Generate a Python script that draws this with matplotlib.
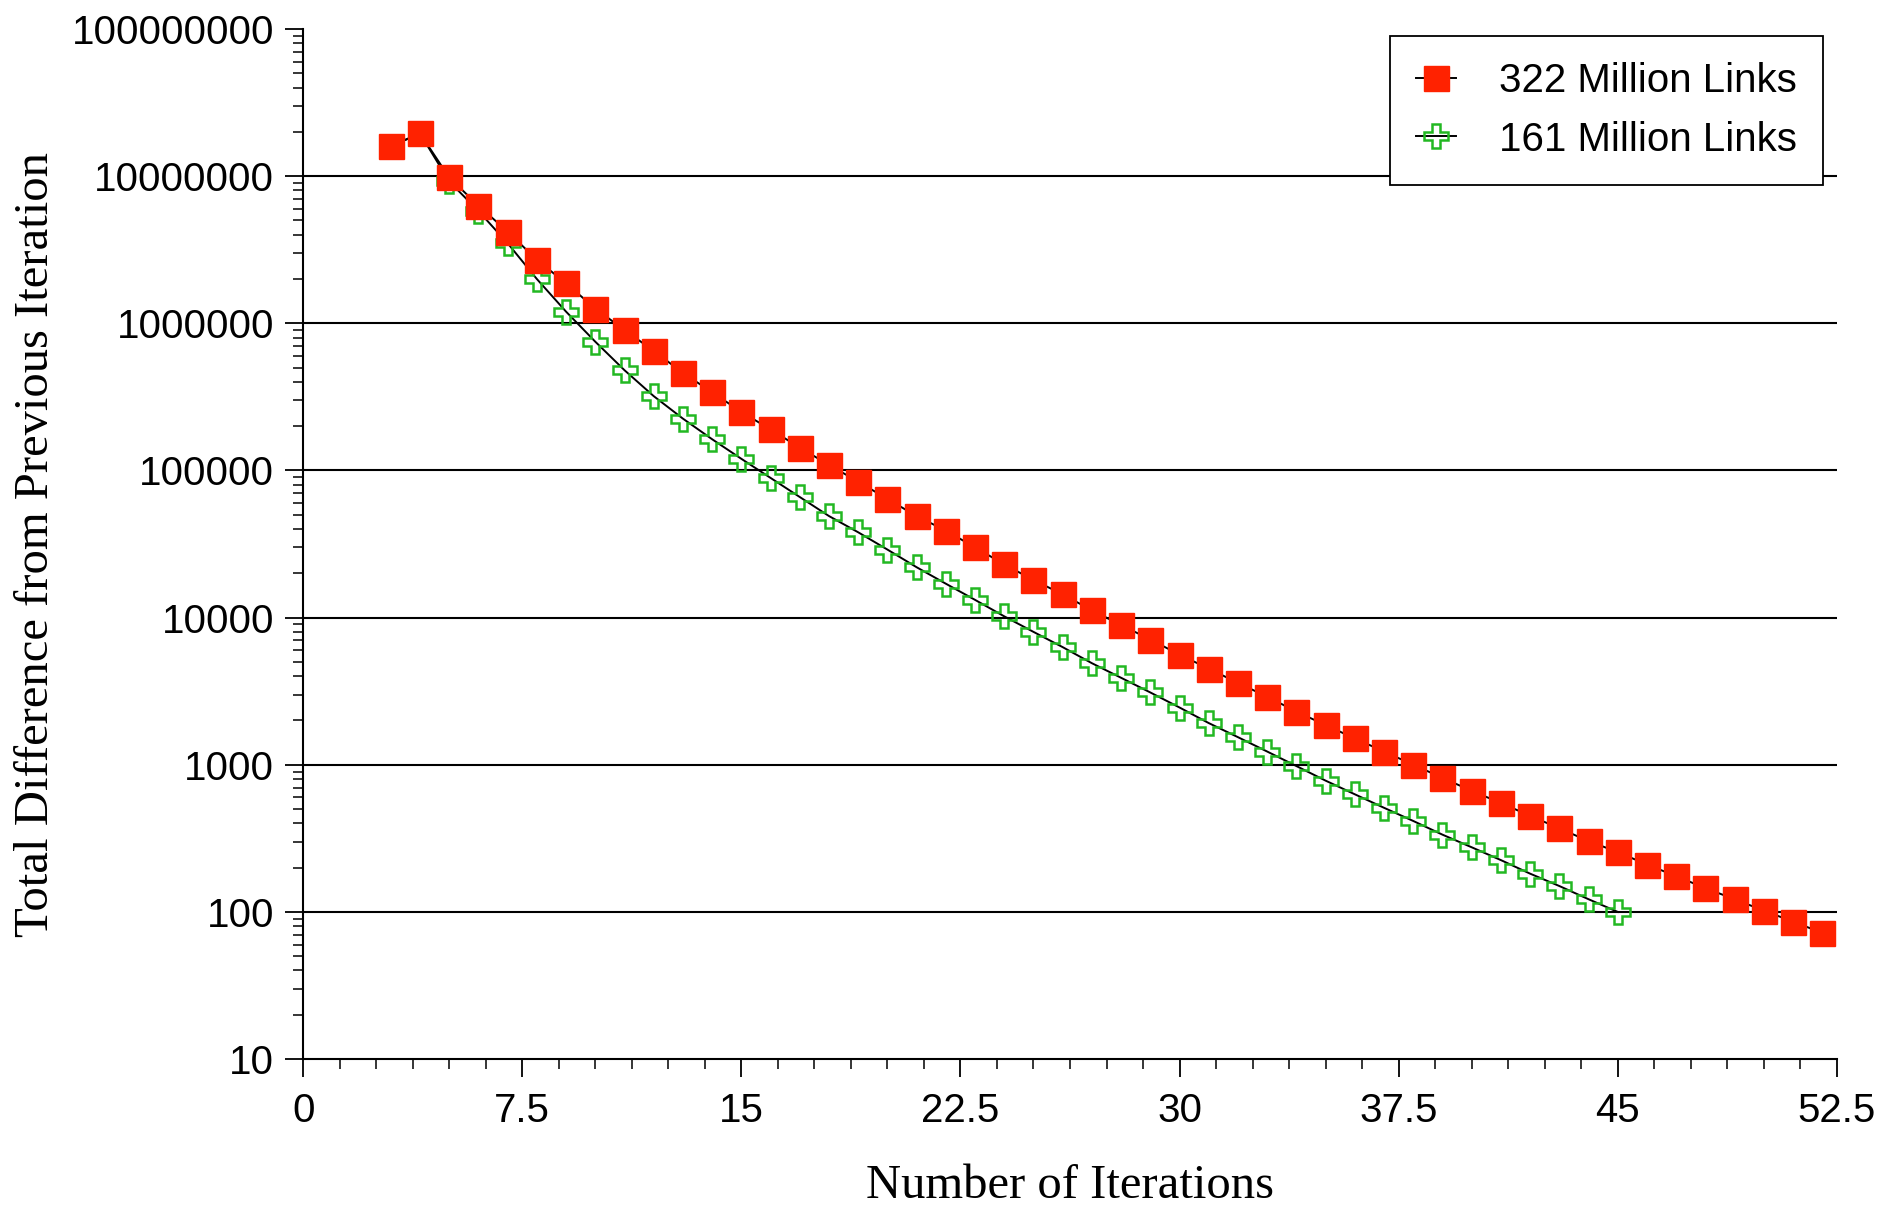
import matplotlib
matplotlib.use("Agg")
import matplotlib.pyplot as plt
from matplotlib.ticker import FixedLocator, AutoMinorLocator, FuncFormatter, LogLocator, NullFormatter

# iterations and total difference from previous iteration
iter_322 = list(range(3, 53))
diff_322 = [1.6e7, 1.95e7, 9.8e6, 6.3e6, 4.2e6, 2.7e6, 1.87e6, 1.26e6, 9.0e5, 6.5e5,
            4.6e5, 3.4e5, 2.5e5, 1.9e5, 1.43e5, 1.09e5, 8.4e4, 6.4e4, 4.9e4, 3.9e4,
            3.0e4, 2.3e4, 1.8e4, 1.44e4, 1.12e4, 8.9e3, 7.1e3, 5.6e3, 4.5e3, 3.6e3,
            2.9e3, 2.3e3, 1.86e3, 1.51e3, 1.23e3, 1.0e3, 815, 665, 550, 450,
            370, 303, 255, 210, 175, 145, 122, 102, 86, 72]

iter_161 = list(range(3, 46))
diff_161 = [1.6e7, 1.95e7, 9.2e6, 5.8e6, 3.5e6, 2.0e6, 1.2e6, 7.5e5, 4.8e5, 3.2e5,
            2.25e5, 1.63e5, 1.2e5, 8.9e4, 6.6e4, 4.9e4, 3.8e4, 2.9e4, 2.2e4, 1.7e4,
            1.32e4, 1.02e4, 8.0e3, 6.3e3, 4.9e3, 3.9e3, 3.1e3, 2.45e3, 1.92e3, 1.54e3,
            1.23e3, 980, 780, 630, 510, 415, 335, 275, 225, 182,
            150, 122, 100]

x_ticks = [0, 7.5, 15, 22.5, 30, 37.5, 45, 52.5]
y_ticks = [10, 100, 1000, 10000, 100000, 1000000, 10000000, 100000000]

sans = ["Liberation Sans", "DejaVu Sans"]
serif = ["Liberation Serif", "DejaVu Serif"]

fig = plt.figure(figsize=(18.83, 12.09), dpi=100)
ax = fig.add_axes([0.161, 0.124, 0.8145, 0.852])

# gridlines at inner decades only
for v in y_ticks[1:-1]:
    ax.axhline(v, color="black", lw=1.5, zorder=1)

# first two green markers sit under the red squares
ax.plot(iter_161, diff_161, color="black", lw=1.4, marker="P", ms=17,
        mfc="none", mec="#22b822", mew=1.8, markevery=slice(2, None),
        label="161 Million Links", zorder=3)
ax.plot(iter_322, diff_322, color="black", lw=1.4, marker="s", ms=18,
        mfc="#ff2200", mec="#ff2200", mew=1.0, label="322 Million Links", zorder=4)

ax.set_yscale("log")
ax.set_xlim(0, 52.5)
ax.set_ylim(10, 1e8)

ax.xaxis.set_major_locator(FixedLocator(x_ticks))
ax.xaxis.set_minor_locator(AutoMinorLocator(6))
ax.xaxis.set_major_formatter(FuncFormatter(lambda v, p: "%g" % v))
ax.yaxis.set_major_locator(FixedLocator(y_ticks))
ax.yaxis.set_minor_locator(LogLocator(base=10, subs=range(2, 10)))
ax.yaxis.set_minor_formatter(NullFormatter())
ax.yaxis.set_major_formatter(FuncFormatter(lambda v, p: "%d" % round(v)))

for s in ["top", "right"]:
    ax.spines[s].set_visible(False)
for s in ["left", "bottom"]:
    ax.spines[s].set_linewidth(1.5)

ax.tick_params(which="major", length=13, width=1.3, labelsize=29, pad=8)
ax.tick_params(which="minor", length=7, width=1.1)
ax.tick_params(axis="x", which="major", pad=11)
for lab in ax.get_xticklabels() + ax.get_yticklabels():
    lab.set_family(sans)

ax.set_xlabel("Number of Iterations", family=serif, fontsize=35, labelpad=24)
ax.set_ylabel("Total Difference from Previous Iteration", family=serif, fontsize=35, labelpad=10)

handles, labels = ax.get_legend_handles_labels()
leg = ax.legend(handles[::-1], labels[::-1], loc="upper right",
                bbox_to_anchor=(0.968, 0.97), bbox_transform=fig.transFigure,
                borderaxespad=0, fancybox=False, framealpha=1, edgecolor="black",
                prop={"family": sans, "size": 29}, handlelength=1.0,
                handletextpad=1.05, labelspacing=0.5, borderpad=0.65)
leg.get_frame().set_linewidth(1.3)

fig.savefig("out.png", dpi=100)
